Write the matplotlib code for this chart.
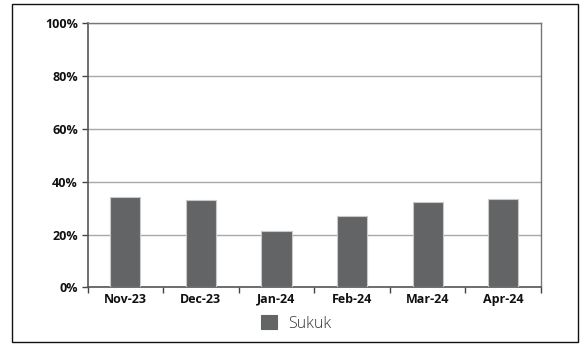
import matplotlib
matplotlib.use("Agg")
import matplotlib.pyplot as plt
from matplotlib.patches import Rectangle
from matplotlib.ticker import FixedLocator, PercentFormatter

months = ["Nov-23", "Dec-23", "Jan-24", "Feb-24", "Mar-24", "Apr-24"]
sukuk = [34.3, 33.1, 21.2, 27.0, 32.3, 33.4]
series_name = "Sukuk"
y_ticks = [0, 20, 40, 60, 80, 100]

W, H = 583, 344
fig = plt.figure(figsize=(W / 100, H / 100), dpi=100)
fig.patch.set_facecolor("white")

# outer frame around the whole chart
fig.patches.append(Rectangle((12 / W, 1 - 342 / H), 566 / W, 338 / H,
                             transform=fig.transFigure, fill=False,
                             edgecolor="#111111", linewidth=1.0))

ax = fig.add_axes([87.5 / W, 1 - 287.3 / H, (541 - 87.5) / W, (287.3 - 23.3) / H])

x = range(len(months))
bars = ax.bar(x, sukuk, width=0.4, color="#636466", edgecolor="#c9c9c9",
              linewidth=0.8, zorder=3, label=series_name)

ax.set_xlim(-0.5, len(months) - 0.5)
ax.set_ylim(0, 100)

ax.set_yticks(y_ticks)
ax.yaxis.set_major_formatter(PercentFormatter(decimals=0))
ax.grid(axis="y", color="#a8a8a8", linewidth=1.0, zorder=0)

ax.set_xticks(list(x))
ax.set_xticklabels(months)
ax.xaxis.set_minor_locator(FixedLocator([i - 0.5 for i in range(len(months) + 1)]))
ax.tick_params(axis="x", which="major", length=0, pad=4)
ax.tick_params(axis="x", which="minor", length=4, color="#444444", width=1)
ax.tick_params(axis="y", length=4, color="#444444", width=1, pad=3)

for lab in ax.get_xticklabels() + ax.get_yticklabels():
    lab.set_fontfamily("Open Sans")
    lab.set_fontweight("bold")
    lab.set_fontsize(9)
    lab.set_color("#111111")

for side in ["left", "bottom"]:
    ax.spines[side].set_color("#555555")
    ax.spines[side].set_linewidth(1.2)
for side in ["top", "right"]:
    ax.spines[side].set_color("#777777")
    ax.spines[side].set_linewidth(1.0)

leg = fig.legend(handles=[bars], labels=[series_name], loc="center",
                 bbox_to_anchor=(296 / W, 1 - 323.5 / H), frameon=False,
                 handlelength=1.0, handleheight=1.0, handletextpad=0.7,
                 prop={"family": "Open Sans", "weight": "light", "size": 11.5})
for t in leg.get_texts():
    t.set_color("#333333")
for h in leg.legend_handles:
    h.set_edgecolor("#636466")

fig.savefig("out.png", dpi=100)
